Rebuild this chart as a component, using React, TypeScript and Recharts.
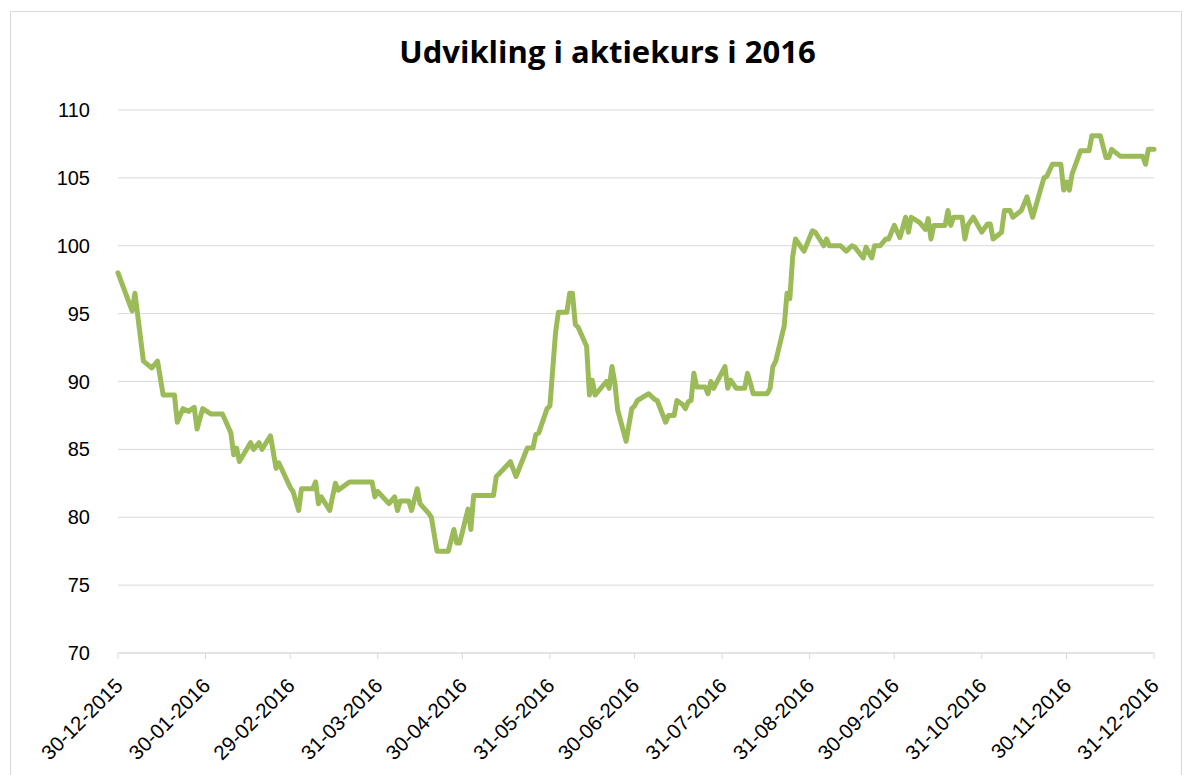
import React from "react";
import { LineChart, Line, XAxis, YAxis, CartesianGrid } from "recharts";

// Trading day offsets (days after 30-12-2015) and closing prices
const dayOffsets: number[] = [
  0, 5, 6, 9, 12, 14, 16, 20, 21, 23, 25, 27, 28, 30, 33, 37, 40, 41, 42, 43,
  47, 48, 50, 51, 54, 56, 57, 61, 62, 64, 65, 69, 70, 71, 72, 75, 77, 78, 82, 90,
  91, 92, 96, 98, 99, 100, 103, 104, 106, 107, 110, 111, 113, 117, 119, 120, 121, 124, 125, 126,
  133, 134, 135, 139, 141, 145, 147, 148, 149, 152, 153, 155, 156, 159, 160, 161, 162, 163, 166, 167,
  168, 169, 173, 174, 175, 176, 177, 180, 182, 183, 184, 188, 190, 191, 194, 195, 197, 198, 200, 201,
  202, 203, 204, 205, 208, 209, 210, 211, 215, 216, 217, 219, 222, 223, 224, 225, 230, 231, 232, 233,
  236, 237, 238, 239, 240, 241, 243, 246, 247, 250, 251, 252, 256, 258, 260, 261, 264, 265, 267, 268,
  270, 272, 273, 275, 277, 279, 280, 281, 284, 286, 287, 288, 289, 293, 294, 295, 296, 299, 300, 301,
  303, 306, 308, 309, 310, 313, 314, 316, 317, 320, 322, 324, 328, 329, 331, 334, 335, 336, 337, 338,
  341, 344, 345, 348, 350, 351, 352, 355, 363, 364, 365, 367,
];

const prices: number[] = [
  98, 95.2, 96.5, 91.5, 91, 91.5, 89, 89, 87, 88, 87.8, 88.1, 86.5, 88, 87.6, 87.6, 86.2, 84.6, 85.1, 84.1,
  85.5, 85, 85.5, 85, 86, 83.6, 84, 82.2, 81.9, 80.5, 82.1, 82.1, 82.6, 81, 81.5, 80.5, 82.5, 82, 82.6, 82.6,
  81.5, 81.9, 81, 81.5, 80.5, 81.2, 81.2, 80.5, 82.1, 81, 80.3, 80, 77.5, 77.5, 79.1, 78.1, 78.1, 80.6, 79.1, 81.6,
  81.6, 83, 83.2, 84.1, 83, 85.1, 85.1, 86.1, 86.2, 88, 88.2, 93.6, 95.1, 95.1, 96.5, 96.5, 94.2, 94, 92.6, 89,
  90.1, 89, 90, 89.5, 91.1, 89.9, 87.9, 85.6, 88, 88.2, 88.6, 89.1, 88.7, 88.6, 87, 87.5, 87.5, 88.6, 88.3, 88,
  88.5, 88.6, 90.6, 89.6, 89.6, 89.1, 90, 89.5, 91.1, 89.5, 90.1, 89.5, 89.5, 90.6, 89.9, 89.1, 89.1, 89.5, 91.1, 91.5,
  94.1, 96.5, 96.1, 99.2, 100.5, 100.2, 99.6, 101.1, 101, 100, 100.5, 100, 100, 99.6, 100, 99.9, 99.1, 99.9, 99.1, 100,
  100, 100.5, 100.5, 101.5, 100.6, 102.1, 101, 102.1, 101.7, 101.2, 102, 100.5, 101.5, 101.5, 102.6, 101.5, 102.1, 102.1, 100.5, 101.5,
  102.1, 101, 101.6, 101.6, 100.5, 101, 102.6, 102.6, 102.1, 102.6, 103.6, 102.1, 105, 105.1, 106, 106, 104.1, 104.7, 104.1, 105.3,
  107, 107, 108.1, 108.1, 106.5, 106.5, 107.1, 106.6, 106.6, 106, 107.1, 107.1,
];

const xTickLabels: string[] = [
  "30-12-2015", "30-01-2016", "29-02-2016", "31-03-2016", "30-04-2016", "31-05-2016", "30-06-2016",
  "31-07-2016", "31-08-2016", "30-09-2016", "31-10-2016", "30-11-2016", "31-12-2016",
];

const yTicks: number[] = [70, 75, 80, 85, 90, 95, 100, 105, 110];

const title = "Udvikling i aktiekurs i 2016";

const parseDate = (s: string): number => {
  const [d, m, y] = s.split("-").map(Number);
  return Date.UTC(y, m - 1, d);
};
const baseTime = parseDate(xTickLabels[0]);
const toOffset = (s: string): number => Math.round((parseDate(s) - baseTime) / 86400000);

const xTicks = xTickLabels.map(toOffset);
const labelByOffset: Record<number, string> = {};
xTickLabels.forEach((l) => (labelByOffset[toOffset(l)] = l));

const data = dayOffsets.map((d, i) => ({ day: d, price: prices[i] }));

const FONT = "'Liberation Sans', Arial, sans-serif";

const XTick = (props: any) => {
  const { x, y, payload } = props;
  const ax = x + 6;
  const ay = y + 26;
  return (
    <text
      x={ax}
      y={ay}
      transform={`rotate(-45, ${ax}, ${ay})`}
      textAnchor="end"
      fontSize={20.5}
      fontFamily={FONT}
      fill="#000"
    >
      {labelByOffset[payload.value]}
    </text>
  );
};

const YTick = (props: any) => {
  const { x, y, payload } = props;
  return (
    <text x={x} y={y} dy={7} textAnchor="end" fontSize={20} fontFamily={FONT} fill="#000">
      {payload.value}
    </text>
  );
};

export default function App() {
  return (
    <div style={{ position: "absolute", left: 0, top: 0, width: 1190, height: 775, background: "#fff", overflow: "hidden" }}>
      <div
        style={{
          position: "absolute",
          left: 10,
          top: 11,
          width: 1172,
          height: 800,
          border: "1px solid #d9d9d9",
          boxSizing: "border-box",
        }}
      />
      <div
        style={{
          position: "absolute",
          left: 0,
          width: 1215,
          top: 31,
          textAlign: "center",
          fontFamily: "'Open Sans', sans-serif",
          fontWeight: 700,
          fontSize: 31,
          color: "#000",
          lineHeight: "40px",
        }}
      >
        {title}
      </div>
      <div style={{ position: "absolute", left: 0, top: 0 }}>
        <LineChart width={1190} height={775} data={data} margin={{ top: 110, right: 36, bottom: 22, left: 58 }}>
          <CartesianGrid vertical={false} stroke="#d9d9d9" strokeWidth={1} />
          <XAxis
            dataKey="day"
            type="number"
            domain={[0, 367]}
            ticks={xTicks}
            interval={0}
            height={100}
            stroke="#d9d9d9"
            tickSize={6}
            tickLine={{ stroke: "#d9d9d9" }}
            tick={<XTick />}
            allowDecimals
          />
          <YAxis
            type="number"
            domain={[70, 110]}
            ticks={yTicks}
            interval={0}
            width={60}
            axisLine={false}
            tickLine={false}
            tickMargin={22}
            tick={<YTick />}
          />
          <Line
            type="linear"
            dataKey="price"
            stroke="#9BBB59"
            strokeWidth={5}
            dot={false}
            strokeLinejoin="round"
            strokeLinecap="round"
            isAnimationActive={false}
          />
        </LineChart>
      </div>
    </div>
  );
}
